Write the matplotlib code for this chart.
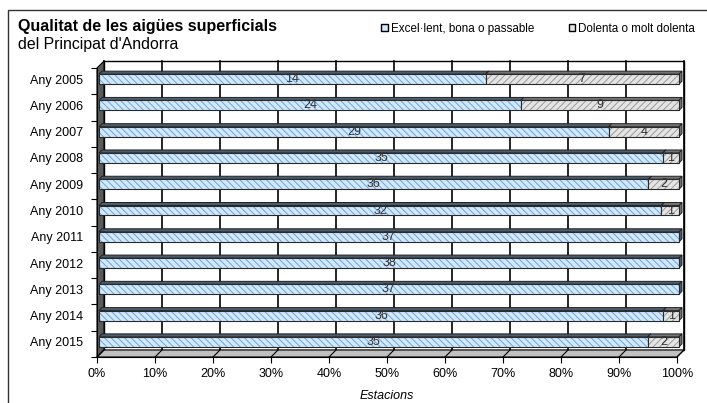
import numpy as np
import matplotlib
matplotlib.use("Agg")
import matplotlib.pyplot as plt
from matplotlib.patches import Polygon, Rectangle, Patch
import matplotlib.transforms as mtransforms

plt.rcParams['font.family'] = ['Liberation Sans', 'DejaVu Sans']
plt.rcParams['hatch.linewidth'] = 0.7

# dades: estacions segons la qualitat de l'aigua
anys = ['Any 2005', 'Any 2006', 'Any 2007', 'Any 2008', 'Any 2009', 'Any 2010',
        'Any 2011', 'Any 2012', 'Any 2013', 'Any 2014', 'Any 2015']
bones = [14, 24, 29, 35, 36, 32, 37, 38, 37, 36, 35]
dolentes = [7, 9, 4, 1, 2, 1, 0, 0, 0, 1, 2]
series = ['Excel·lent, bona o passable', 'Dolenta o molt dolenta']
ticks_pct = list(range(0, 101, 10))

bones = np.array(bones, dtype=float)
dolentes = np.array(dolentes, dtype=float)
total = bones + dolentes
pct_b = bones / total * 100
pct_d = dolentes / total * 100

W, H = 707, 403
fig = plt.figure(figsize=(W / 100, H / 100), dpi=100)
ax = fig.add_axes([97 / W, (H - 357) / H, 580 / W, 289 / H])
ax.set_xlim(0, 100)
ax.set_ylim(len(anys) - 0.5, -0.5)
ax.patch.set_visible(False)

DEPTH = 7      # profunditat de les parets (px)
FRONT = 2      # separacio de la cara frontal de la barra
BDEPTH = 3     # gruix de la barra
ident = mtransforms.IdentityTransform()


def px(x, y, off=0):
    p = ax.transData.transform((x, y))
    return (p[0] + off, p[1] + off)


def apx(x, y, off=0):
    p = ax.transAxes.transform((x, y))
    return (p[0] + off, p[1] + off)


def poly(pts, fc, ec='black', lw=0.8, z=1):
    ax.add_patch(Polygon(pts, closed=True, facecolor=fc, edgecolor=ec, lw=lw,
                         transform=ident, clip_on=False, zorder=z))


# paret del fons amb la graella
poly([apx(0, 0, DEPTH), apx(1, 0, DEPTH), apx(1, 1, DEPTH), apx(0, 1, DEPTH)],
     'white', lw=1.0, z=0.5)
ylo, yhi = ax.get_ylim()
for t in ticks_pct:
    a, b = px(t, ylo, DEPTH), px(t, yhi, DEPTH)
    ax.plot([a[0], b[0]], [a[1], b[1]], color='black', lw=1.2,
            transform=ident, clip_on=False, zorder=0.6)

# paret esquerra i terra
poly([apx(0, 0), apx(0, 1), apx(0, 1, DEPTH), apx(0, 0, DEPTH)], '#5a5a5a', z=0.7)
poly([apx(0, 0), apx(1, 0), apx(1, 0, DEPTH), apx(0, 0, DEPTH)], '#c0c0c0', z=0.7)
for t in ticks_pct:
    a, b = px(t, ylo), px(t, ylo, DEPTH)
    ax.plot([a[0], b[0]], [a[1], b[1]], color='black', lw=0.8,
            transform=ident, clip_on=False, zorder=0.8)

# barres 3D
shift = ax.transData + mtransforms.ScaledTranslation(FRONT / 100, FRONT / 100,
                                                     fig.dpi_scale_trans)
h = 0.38
y = np.arange(len(anys))
estils = [
    (np.zeros(len(anys)), pct_b, '#d3e8fc', '#6aa6dc', '#4c5d6e', '\\\\\\\\\\'),
    (pct_b, pct_d, '#e4e4e4', '#9a9a9a', '#747474', '/////'),
]
z = 2
for left, width, fc, hc, dark, hatch in estils:
    for i in range(len(anys)):
        if width[i] <= 0:
            continue
        x0, x1 = left[i], left[i] + width[i]
        top, bot = i - h / 2, i + h / 2
        f, d = FRONT, FRONT + BDEPTH
        poly([px(x0, top, f), px(x1, top, f), px(x1, top, d), px(x0, top, d)],
             dark, ec='#222222', lw=0.7, z=z)
        poly([px(x1, top, f), px(x1, bot, f), px(x1, bot, d), px(x1, top, d)],
             dark, ec='#222222', lw=0.7, z=z)
    bars = ax.barh(y, width, height=h, left=left, color=fc, edgecolor=hc,
                   hatch=hatch, lw=0, zorder=z + 0.1)
    outl = ax.barh(y, width, height=h, left=left, fill=False,
                   edgecolor='#2a2a2a', lw=0.8, zorder=z + 0.2)
    for p in list(bars) + list(outl):
        p.set_transform(shift)
        p.set_clip_on(False)
    z += 1

# etiquetes de valors
for vals, left, width in [(bones, np.zeros(len(anys)), pct_b), (dolentes, pct_b, pct_d)]:
    for i in range(len(anys)):
        if vals[i] <= 0:
            continue
        ax.text(left[i] + width[i] / 2, i, f'{int(vals[i])}', transform=shift,
                ha='center', va='center', fontsize=9, color='#333333', zorder=6)

# eixos
for s in ['top', 'right']:
    ax.spines[s].set_visible(False)
ax.spines['left'].set_zorder(1)
ax.spines['bottom'].set_zorder(1)
ax.set_xticks(ticks_pct)
ax.set_xticklabels([f'{t}%' for t in ticks_pct])
ax.tick_params(axis='x', length=4, width=0.8, pad=4, labelsize=9)
ax.set_yticks(y)
ax.set_yticklabels(anys)
ax.set_yticks(np.arange(len(anys) + 1) - 0.5, minor=True)
ax.tick_params(axis='y', which='major', length=0, pad=10, labelsize=9)
ax.tick_params(axis='y', which='minor', length=4, width=0.8)
lab_off = mtransforms.ScaledTranslation(0, FRONT / 100, fig.dpi_scale_trans)
for lab in ax.get_yticklabels():
    lab.set_transform(lab.get_transform() + lab_off)
ax.set_xlabel('Estacions', fontsize=9, style='italic', labelpad=7)

# titol i llegenda
fig.text(18 / W, 1 - 31 / H, 'Qualitat de les aigües superficials',
         fontsize=11.5, fontweight='bold', va='baseline')
fig.text(18 / W, 1 - 49 / H, "del Principat d'Andorra", fontsize=11.4, va='baseline')
handles = [Patch(facecolor='#d3e8fc', edgecolor='black', lw=1.0),
           Patch(facecolor='#e4e4e4', edgecolor='black', lw=1.0)]
fig.legend(handles, series, loc='center right', bbox_to_anchor=(700 / W, 1 - 29 / H),
           ncol=2, frameon=False, fontsize=8.4, handlelength=0.55, handleheight=0.55,
           handletextpad=0.3, columnspacing=2.9, borderaxespad=0)

# marc exterior
fig.add_artist(Rectangle((8 / W, -0.1), 1.0, (H - 10) / H + 0.1,
                         transform=fig.transFigure, fill=False, lw=1.0, ec='#333333'))

fig.savefig('out.png', dpi=100)
